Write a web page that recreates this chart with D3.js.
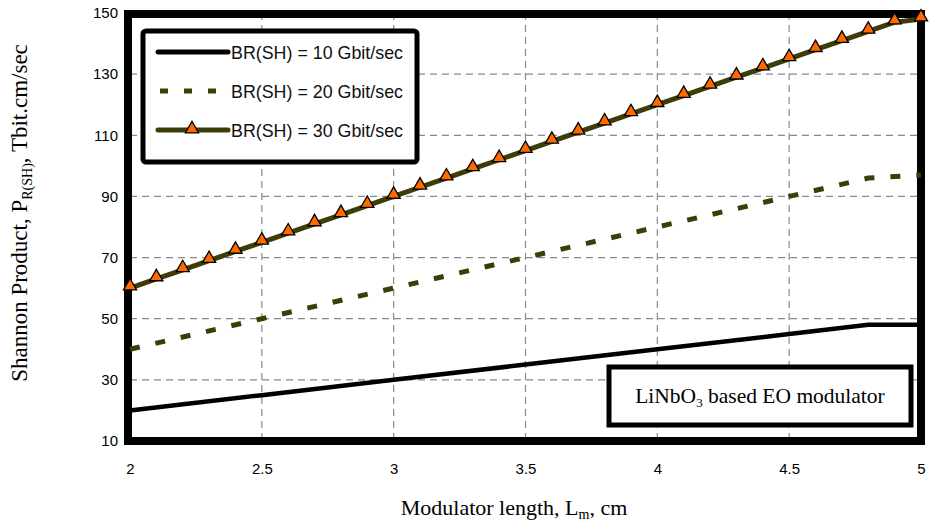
<!DOCTYPE html>
<html><head><meta charset="utf-8">
<script src="https://cdn.jsdelivr.net/npm/d3@7"></script>
<style>body{margin:0;background:#fff}svg{display:block}</style>
</head><body>
<script>
const xTicks = [2, 2.5, 3, 3.5, 4, 4.5, 5];
const xTickLabels = ["2", "2.5", "3", "3.5", "4", "4.5", "5"];
const yTicks = [10, 30, 50, 70, 90, 110, 130, 150];
const seriesNames = ["BR(SH) = 10 Gbit/sec", "BR(SH) = 20 Gbit/sec", "BR(SH) = 30 Gbit/sec"];
const xs10 = [2, 2.5, 3, 3.5, 4, 4.5, 4.8, 5];
const ys10 = [20, 25, 30, 35, 40, 45, 48, 48];
const xs20 = [2, 2.5, 3, 3.5, 4, 4.5, 4.8, 5];
const ys20 = [40, 50, 60, 70, 80, 90, 96, 97];
const xs30 = [2, 2.1, 2.2, 2.3, 2.4, 2.5, 2.6, 2.7, 2.8, 2.9, 3, 3.1, 3.2, 3.3, 3.4, 3.5, 3.6, 3.7, 3.8, 3.9, 4, 4.1, 4.2, 4.3, 4.4, 4.5, 4.6, 4.7, 4.8, 4.9, 5];
const ys30 = [60, 63, 66, 69, 72, 75, 78, 81, 84, 87, 90, 93, 96, 99, 102, 105, 108, 111, 114, 117, 120, 123, 126, 129, 132, 135, 138, 141, 144, 147, 148];

const W = 931, H = 525;
const svg = d3.select("body").append("svg").attr("width", W).attr("height", H);
const x = d3.scaleLinear().domain([2, 5]).range([130, 921]);
const y = d3.scaleLinear().domain([10, 150]).range([441, 13]);
const narrow = "'Liberation Sans Narrow', 'Arial Narrow', 'Liberation Sans', Arial, sans-serif";
const serif = "'Liberation Serif', 'Times New Roman', serif";

// grid
const g = svg.append("g");
g.selectAll(".vg").data(xTicks.slice(1, -1)).join("line")
  .attr("x1", d => x(d)).attr("x2", d => x(d)).attr("y1", y(150)).attr("y2", y(10))
  .attr("stroke", "#8a8a8a").attr("stroke-width", 1.2).attr("stroke-dasharray", "7,5");
g.selectAll(".hg").data(yTicks.slice(1, -1)).join("line")
  .attr("x1", x(2)).attr("x2", x(5)).attr("y1", d => y(d)).attr("y2", d => y(d))
  .attr("stroke", "#8a8a8a").attr("stroke-width", 1.2).attr("stroke-dasharray", "7,5");

// frame
svg.append("rect").attr("x", x(2) - 2).attr("y", y(150) + 1).attr("width", x(5) - x(2) + 2).attr("height", y(10) - y(150) - 1)
  .attr("fill", "none").attr("stroke", "#000").attr("stroke-width", 8);

// axes
const xAxis = d3.axisBottom(x).tickValues(xTicks).tickFormat((d, i) => xTickLabels[i]).tickSize(0).tickPadding(0);
const xa = svg.append("g").attr("transform", `translate(0,${y(10) + 22})`).call(xAxis);
xa.select(".domain").remove();
xa.selectAll("text").attr("font-family", narrow).attr("font-size", 15).attr("fill", "#000").attr("dy", "0.35em").attr("y", 6)
  .attr("transform", function() { const t = d3.select(this); return null; });
const yAxis = d3.axisLeft(y).tickValues(yTicks).tickSize(0).tickPadding(0);
const ya = svg.append("g").attr("transform", `translate(${x(2) - 12},0)`).call(yAxis);
ya.select(".domain").remove();
ya.selectAll("text").attr("font-family", narrow).attr("font-size", 15).attr("fill", "#000");

// titles
const xt = svg.append("text").attr("x", 514).attr("y", 515).attr("text-anchor", "middle")
  .attr("font-family", serif).attr("font-size", 22).attr("fill", "#000");
xt.append("tspan").text("Modulator length, L");
xt.append("tspan").attr("font-size", 14).attr("dy", 4).text("m");
xt.append("tspan").attr("dy", -4).text(", cm");
const yt = svg.append("text").attr("transform", "translate(27,213) rotate(-90)").attr("text-anchor", "middle")
  .attr("font-family", serif).attr("font-size", 23).attr("fill", "#000");
yt.append("tspan").text("Shannon Product, P");
yt.append("tspan").attr("font-size", 14).attr("dy", 5).text("R(SH)");
yt.append("tspan").attr("dy", -5).text(", Tbit.cm/sec");

// lines
const line = d3.line().x(d => x(d[0])).y(d => y(d[1]));
const d10 = xs10.map((v, i) => [v, ys10[i]]);
const d20 = xs20.map((v, i) => [v, ys20[i]]);
const d30 = xs30.map((v, i) => [v, ys30[i]]);
svg.append("path").attr("d", line(d10)).attr("fill", "none").attr("stroke", "#000").attr("stroke-width", 4.5);
svg.append("path").attr("d", line(d20)).attr("fill", "none").attr("stroke", "#3d3d08").attr("stroke-width", 5).attr("stroke-dasharray", "10,16");
svg.append("path").attr("d", line(d30)).attr("fill", "none").attr("stroke", "#3d3d08").attr("stroke-width", 5);
const tri = d3.symbol().type(d3.symbolTriangle).size(75);
svg.selectAll(".m").data(d30).join("path").attr("d", tri)
  .attr("transform", d => `translate(${x(d[0])},${y(d[1]) - 2})`)
  .attr("fill", "#ff6a00").attr("stroke", "#000").attr("stroke-width", 1.3);

// legend
const lg = svg.append("g");
lg.append("rect").attr("x", 143).attr("y", 31).attr("width", 274).attr("height", 131).attr("rx", 3)
  .attr("fill", "#fff").attr("stroke", "#000").attr("stroke-width", 5);
const rows = [52, 91, 130];
lg.append("line").attr("x1", 158).attr("x2", 228).attr("y1", rows[0]).attr("y2", rows[0]).attr("stroke", "#000").attr("stroke-width", 5).attr("stroke-linecap", "round");
lg.append("line").attr("x1", 160).attr("x2", 228).attr("y1", rows[1]).attr("y2", rows[1]).attr("stroke", "#3d3d08").attr("stroke-width", 5).attr("stroke-dasharray", "8,16");
lg.append("line").attr("x1", 158).attr("x2", 228).attr("y1", rows[2]).attr("y2", rows[2]).attr("stroke", "#3d3d08").attr("stroke-width", 5).attr("stroke-linecap", "round");
lg.append("path").attr("d", tri).attr("transform", `translate(192,${rows[2] - 1})`).attr("fill", "#ff6a00").attr("stroke", "#000").attr("stroke-width", 1.3);
lg.selectAll(".lt").data(seriesNames).join("text").attr("x", 231).attr("y", (d, i) => rows[i]).attr("dy", "0.35em")
  .attr("font-family", narrow).attr("font-size", 19).attr("fill", "#111")
  .attr("textLength", 172).attr("lengthAdjust", "spacingAndGlyphs").text(d => d);

// annotation
const an = svg.append("g");
an.append("rect").attr("x", 609).attr("y", 367).attr("width", 302).attr("height", 58)
  .attr("fill", "#fff").attr("stroke", "#000").attr("stroke-width", 5);
const at = an.append("text").attr("x", 760).attr("y", 403).attr("text-anchor", "middle")
  .attr("font-family", serif).attr("font-size", 21.5).attr("fill", "#000");
at.append("tspan").text("LiNbO");
at.append("tspan").attr("font-size", 13).attr("dy", 4).text("3");
at.append("tspan").attr("dy", -4).text(" based EO modulator");
</script>
</body></html>
